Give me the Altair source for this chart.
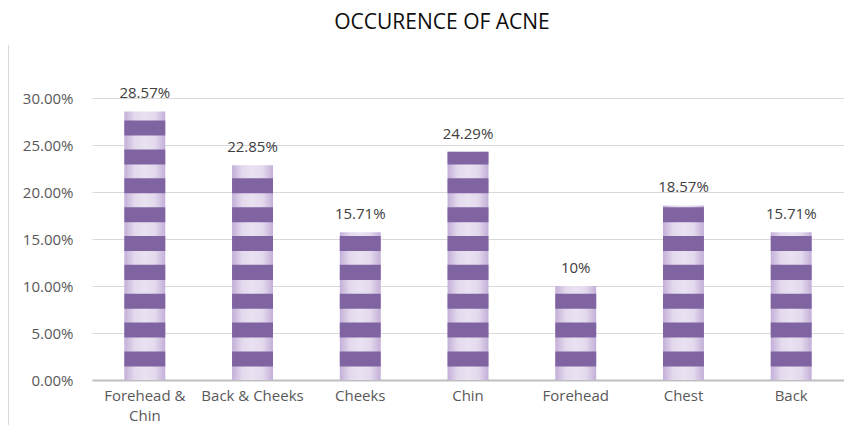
import altair as alt
import pandas as pd

# ---- data ----
categories = ["Forehead & Chin", "Back & Cheeks", "Cheeks", "Chin", "Forehead", "Chest", "Back"]
occurrence = [0.2857, 0.2285, 0.1571, 0.2429, 0.10, 0.1857, 0.1571]
y_ticks = [0.0, 0.05, 0.10, 0.15, 0.20, 0.25, 0.30]
title_text = "OCCURENCE OF ACNE"

df = pd.DataFrame({"part": categories, "share": occurrence})

FONT = "Open Sans"
# decorative stripe pattern (style only)
STRIPE_PERIOD = 0.0307
STRIPE_OFFSET = 0.0144
STRIPE_LEN = 0.0160

light_fill = alt.Gradient(
    gradient="linear",
    x1=0, x2=1, y1=0, y2=0,
    stops=[
        alt.GradientStop(color="#c3afd8", offset=0),
        alt.GradientStop(color="#e3d9ed", offset=0.25),
        alt.GradientStop(color="#e9e2f1", offset=0.5),
        alt.GradientStop(color="#e3d9ed", offset=0.75),
        alt.GradientStop(color="#c3afd8", offset=1),
    ],
)

x_scale = alt.Scale(paddingInner=0.62, paddingOuter=0.3)
y_scale = alt.Scale(domain=[0, 0.30], nice=False)

x_enc = alt.X(
    "part:N",
    sort=categories,
    scale=x_scale,
    axis=alt.Axis(
        title=None,
        labelAngle=0,
        labelFont=FONT,
        labelFontSize=15,
        labelColor="#595959",
        labelPadding=8,
        labelLineHeight=20,
        domainColor="#bfbfbf",
        domainWidth=2,
        ticks=False,
        labelExpr="datum.value == 'Forehead & Chin' ? ['Forehead &', 'Chin'] : datum.label",
    ),
)

base = alt.Chart(df)

bars = base.mark_bar(color=light_fill).encode(
    x=x_enc,
    y=alt.Y(
        "share:Q",
        scale=y_scale,
        axis=alt.Axis(
            values=y_ticks,
            format=".2%",
            title=None,
            domain=False,
            ticks=False,
            gridColor="#d9d9d9",
            gridWidth=1,
            labelFont=FONT,
            labelFontSize=15,
            labelColor="#595959",
            labelPadding=19,
        ),
    ),
)

stripes = (
    base.transform_calculate(k="sequence(0, 12)")
    .transform_flatten(["k"])
    .transform_calculate(s0=f"datum.k * {STRIPE_PERIOD} + {STRIPE_OFFSET}")
    .transform_filter("datum.s0 < datum.share")
    .transform_calculate(s1=f"min(datum.s0 + {STRIPE_LEN}, datum.share)")
    .mark_bar(color="#8064a2")
    .encode(
        x=alt.X("part:N", sort=categories, scale=x_scale),
        y=alt.Y("s0:Q", scale=y_scale),
        y2="s1:Q",
    )
)

labels = base.mark_text(
    baseline="bottom", dy=-10, font=FONT, fontSize=15, color="#404040"
).encode(
    x=alt.X("part:N", sort=categories, scale=x_scale),
    y=alt.Y("share:Q", scale=y_scale),
    text=alt.Text("share:Q", format=".2~%"),
)

border = alt.Chart(df).mark_rule(color="#d9d9d9", strokeWidth=1).encode(
    x=alt.value(-83.5), y=alt.value(-53), y2=alt.value(330)
)

chart = (
    alt.layer(bars, stripes, labels, border)
    .properties(
        width=752,
        height=282,
        padding={"left": 84, "top": 90, "right": 0, "bottom": 45},
        autosize=alt.AutoSizeParams(type="none"),
        title=alt.TitleParams(
            title_text,
            font=FONT,
            fontSize=21,
            fontWeight="normal",
            color="#0d0d0d",
            anchor="middle",
            dx=-26,
            offset=12,
        ),
        background="white",
    )
    .configure_view(stroke=None)
)

chart.save("out.html", embed_options={"renderer": "svg", "actions": False})
